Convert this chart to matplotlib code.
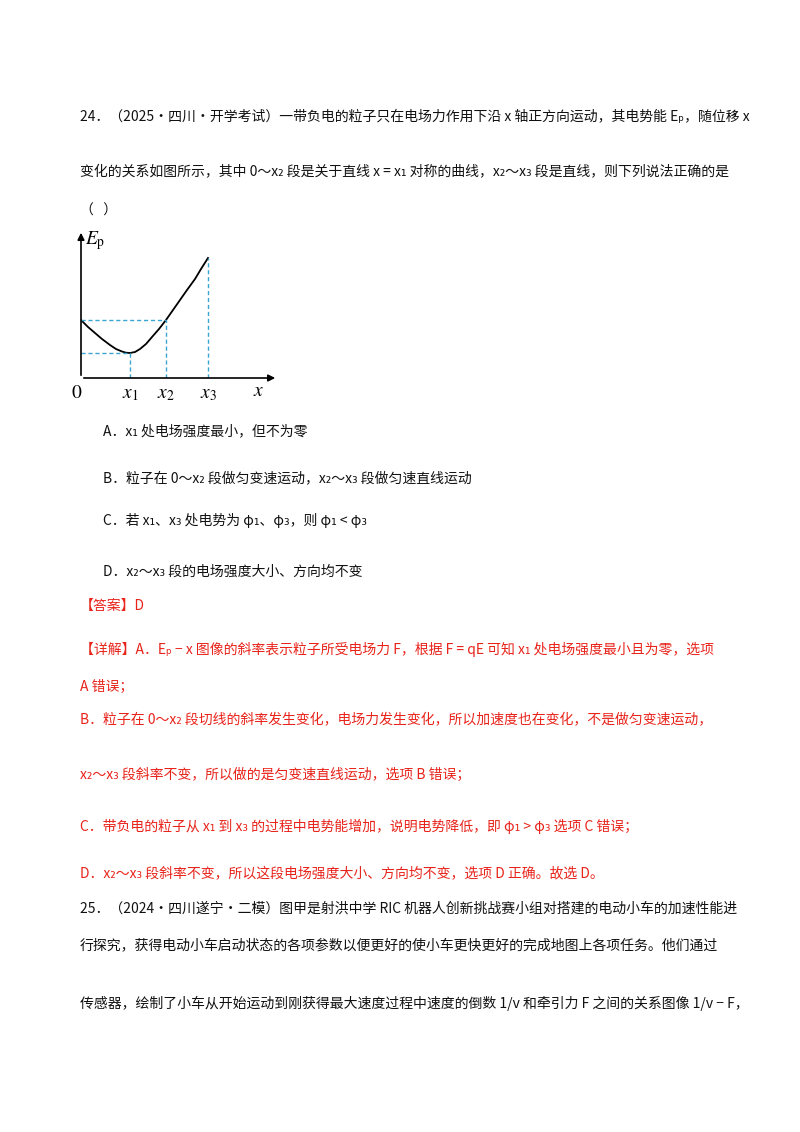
import matplotlib
matplotlib.use("Agg")
import matplotlib.pyplot as plt

plt.rcParams['font.family'] = ['Noto Sans CJK SC', 'DejaVu Sans']
plt.rcParams['mathtext.fontset'] = 'stix'

# curve samples (x offset, Ep height), in chart units
curve_x = [0, 7, 14, 21, 29, 35, 41, 45, 49, 54, 59, 65, 71, 78, 85, 92, 99, 106, 114, 120, 127]
curve_y = [58, 51, 45, 39, 33, 29, 26.5, 25.3, 25, 26, 29, 34, 41, 49, 58, 68, 78, 88, 99, 109, 120]
x1, x2, x3 = 49, 85, 127
ep0, epmin, ep3 = 58, 25, 120

W, H = 800, 1132
fig = plt.figure(figsize=(8, 11.32), dpi=100)

BLACK = '#111111'
RED = '#e8231a'
lines = [
    (80, 117, "24．（2025·四川·开学考试）一带负电的粒子只在电场力作用下沿 x 轴正方向运动，其电势能 Eₚ，随位移 x", BLACK),
    (80, 172, "变化的关系如图所示，其中 0～x₂ 段是关于直线 x = x₁ 对称的曲线，x₂～x₃ 段是直线，则下列说法正确的是", BLACK),
    (80, 211, "（   ）", BLACK),
    (103, 431, "A．x₁ 处电场强度最小，但不为零", BLACK),
    (103, 478, "B．粒子在 0～x₂ 段做匀变速运动，x₂～x₃ 段做匀速直线运动", BLACK),
    (103, 521, "C．若 x₁、x₃ 处电势为 φ₁、φ₃，则 φ₁ < φ₃", BLACK),
    (103, 572, "D．x₂～x₃ 段的电场强度大小、方向均不变", BLACK),
    (80, 606, "【答案】D", RED),
    (80, 649, "【详解】A．Eₚ − x 图像的斜率表示粒子所受电场力 F，根据 F = qE 可知 x₁ 处电场强度最小且为零，选项", RED),
    (80, 687, "A 错误；", RED),
    (80, 720, "B．粒子在 0～x₂ 段切线的斜率发生变化，电场力发生变化，所以加速度也在变化，不是做匀变速运动，", RED),
    (80, 775, "x₂～x₃ 段斜率不变，所以做的是匀变速直线运动，选项 B 错误；", RED),
    (80, 826, "C．带负电的粒子从 x₁ 到 x₃ 的过程中电势能增加，说明电势降低，即 φ₁ > φ₃ 选项 C 错误；", RED),
    (80, 873, "D．x₂～x₃ 段斜率不变，所以这段电场强度大小、方向均不变，选项 D 正确。故选 D。", RED),
    (80, 909, "25．（2024·四川遂宁·二模）图甲是射洪中学 RIC 机器人创新挑战赛小组对搭建的电动小车的加速性能进", BLACK),
    (80, 945, "行探究，获得电动小车启动状态的各项参数以便更好的使小车更快更好的完成地图上各项任务。他们通过", BLACK),
    (80, 1003, "传感器，绘制了小车从开始运动到刚获得最大速度过程中速度的倒数 1/v 和牵引力 F 之间的关系图像 1/v − F，", BLACK),
]
for x, y, s, c in lines:
    fig.text(x / W, 1 - y / H, s, fontsize=10, color=c, va='center', ha='left')

# chart
ax = fig.add_axes([81 / W, 1 - 378 / H, 200 / W, 150 / H])
ax.set_xlim(0, 200)
ax.set_ylim(0, 150)
ax.axis('off')
ax.annotate('', xy=(197, 0), xytext=(0, 0),
            arrowprops=dict(arrowstyle='-|>', color='black', lw=1.2, mutation_scale=10))
ax.annotate('', xy=(0, 148), xytext=(0, 0),
            arrowprops=dict(arrowstyle='-|>', color='black', lw=1.2, mutation_scale=10))
ax.plot(curve_x, curve_y, color='black', lw=1.3)
dc = '#3aa6d0'
dkw = dict(ls=(0, (3, 2)), color=dc, lw=1)
ax.plot([0, x2], [ep0, ep0], **dkw)
ax.plot([0, x1], [epmin, epmin], **dkw)
ax.plot([x1, x1], [0, epmin], **dkw)
ax.plot([x2, x2], [0, ep0], **dkw)
ax.plot([x3, x3], [0, ep3], **dkw)
kw = dict(fontsize=14, ha='center', va='center', clip_on=False)
ax.text(-4, -15, '$\\mathrm{0}$', **kw)
ax.text(x1, -15, '$x_1$', **kw)
ax.text(x2, -15, '$x_2$', **kw)
ax.text(x3, -15, '$x_3$', **kw)
ax.text(178, -13, '$x$', **kw)
ax.text(14, 137, r'$E_\mathrm{p}$', **kw)

fig.savefig('out.png', dpi=100)
